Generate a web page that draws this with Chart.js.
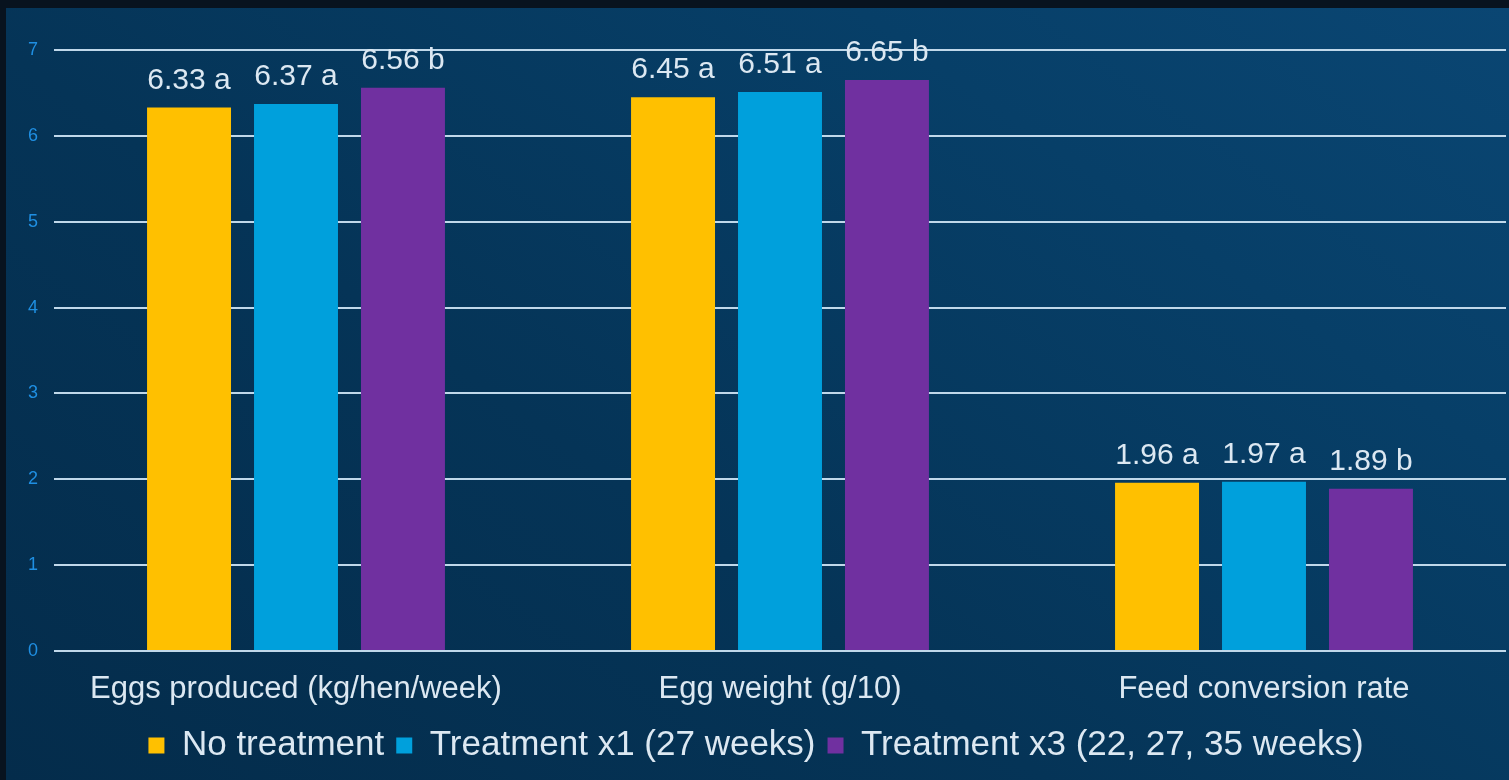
<!DOCTYPE html>
<html>
<head>
<meta charset="utf-8">
<script src="https://cdn.jsdelivr.net/npm/chart.js@4"></script>
<style>
  html, body { margin: 0; padding: 0; background: #08131f; }
  #wrap {
    position: absolute; left: 6px; top: 8px; width: 1503px; height: 772px;
    background: linear-gradient(35deg, #042c4b 0%, #053457 40%, #073f68 75%, #0a4673 100%);
  }
</style>
</head>
<body>
<div id="wrap"><canvas id="myChart"></canvas></div>
<script>
var categories = ['Eggs produced (kg/hen/week)', 'Egg weight (g/10)', 'Feed conversion rate'];
var seriesNames = ['No treatment', 'Treatment x1 (27 weeks)', 'Treatment x3 (22, 27, 35 weeks)'];
var noTreatment = [6.33, 6.45, 1.96];
var treatmentX1 = [6.37, 6.51, 1.97];
var treatmentX3 = [6.56, 6.65, 1.89];
// significance letters shown after each value
var lettersNo = ['a', 'a', 'a'];
var lettersX1 = ['a', 'a', 'a'];
var lettersX3 = ['b', 'b', 'b'];
var yTicks = [0, 1, 2, 3, 4, 5, 6, 7];

var colors = ['#FFC000', '#00A0DC', '#7030A0'];
var textColor = '#dce8f2';

// writes "6.33 a" above each bar
var valueLabels = {
    id: 'valueLabels',
    afterDatasetsDraw: function(chart) {
        var ctx = chart.ctx;
        var letters = [lettersNo, lettersX1, lettersX3];
        ctx.save();
        ctx.font = '30px "Liberation Sans", Arial, sans-serif';
        ctx.fillStyle = textColor;
        ctx.textAlign = 'center';
        ctx.textBaseline = 'middle';
        chart.data.datasets.forEach(function(ds, i) {
            chart.getDatasetMeta(i).data.forEach(function(bar, j) {
                ctx.fillText(ds.data[j].toFixed(2) + ' ' + letters[i][j], bar.x, bar.y - 27);
            });
        });
        ctx.restore();
    }
};

var ctx = document.getElementById('myChart').getContext('2d');
var chart = new Chart(ctx, {
    type: 'bar',
    data: {
        labels: categories,
        datasets: [
            { label: seriesNames[0], data: noTreatment, backgroundColor: colors[0] },
            { label: seriesNames[1], data: treatmentX1, backgroundColor: colors[1] },
            { label: seriesNames[2], data: treatmentX3, backgroundColor: colors[2] }
        ]
    },
    options: {
        responsive: true,
        maintainAspectRatio: false,
        animation: false,
        categoryPercentage: 0.663,
        barPercentage: 0.785,
        layout: { padding: { top: 42, right: 3, left: 0, bottom: 7 } },
        scales: {
            x: {
                grid: { display: false },
                border: { display: false },
                ticks: {
                    color: textColor,
                    padding: 12,
                    font: { size: 31, family: '"Liberation Sans", Arial, sans-serif' }
                },
                afterFit: function(s) { s.height = 65; }
            },
            y: {
                min: 0,
                max: 7,
                afterBuildTicks: function(s) { s.ticks = yTicks.map(function(v) { return { value: v }; }); },
                grid: { color: '#c0d8ea', lineWidth: 2, drawTicks: false },
                border: { display: false },
                ticks: {
                    color: '#1f8fe2',
                    padding: 16,
                    font: { size: 18, family: '"Liberation Sans", Arial, sans-serif' }
                },
                afterFit: function(s) { s.width = 48; }
            }
        },
        plugins: {
            legend: {
                position: 'bottom',
                labels: {
                    color: textColor,
                    boxWidth: 16,
                    boxHeight: 16,
                    padding: 12,
                    font: { size: 35, family: '"Liberation Sans", Arial, sans-serif' }
                }
            },
            tooltip: { enabled: false }
        }
    },
    plugins: [valueLabels]
});
</script>
</body>
</html>
